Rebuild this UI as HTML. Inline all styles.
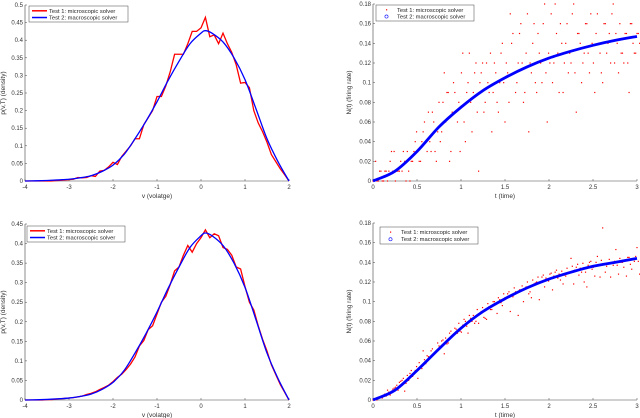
<!DOCTYPE html>
<html><head><meta charset="utf-8"><style>
html,body{margin:0;padding:0;background:#fff;}
svg{display:block;font-family:"Liberation Sans",sans-serif;}
</style></head><body>
<svg id="fig" width="640" height="418" viewBox="0 0 640 418" xmlns="http://www.w3.org/2000/svg"></svg>
<script>
// ---- density data (v) ----
const vRed = [-4,2,0.1];
const redTop = [0,0,0,0,0,0,0,0.001,0.002,0.003,0.004,
0.005,0.01,0.009,0.01,0.015,0.013,0.028,0.03,0.04,0.053,
0.047,0.07,0.085,0.1,0.12,0.12,0.16,0.18,0.2,0.24,
0.24,0.27,0.31,0.36,0.36,0.36,0.39,0.425,0.425,0.435,
0.465,0.41,0.415,0.39,0.42,0.39,0.365,0.33,0.278,0.28,
0.265,0.2,0.165,0.14,0.11,0.075,0.055,0.035,0.018,0];
const redBottom = [0,0,0,0,0,0.001,0.001,0.002,0.003,0.004,0.005,
0.006,0.008,0.01,0.014,0.017,0.021,0.027,0.032,0.038,0.047,
0.058,0.066,0.078,0.092,0.11,0.138,0.152,0.18,0.19,0.22,
0.25,0.265,0.295,0.33,0.34,0.37,0.395,0.378,0.4,0.415,
0.435,0.415,0.425,0.42,0.39,0.385,0.37,0.34,0.335,0.29,
0.25,0.23,0.19,0.155,0.125,0.09,0.065,0.04,0.02,0];
const vBlue = [-4,-3.75,-3.5,-3.25,-3,-2.75,-2.5,-2.25,-2,-1.75,-1.5,-1.25,-1,-0.75,-0.5,-0.25,0,0.1,0.25,0.5,0.75,1,1.25,1.5,1.75,2];
const blueDensity = [0,0.0005,0.0015,0.003,0.005,0.009,0.015,0.027,0.045,0.075,0.12,0.17,0.225,0.285,0.34,0.39,0.42,0.427,0.42,0.395,0.35,0.288,0.205,0.12,0.055,0];
// ---- firing rate data (t) ----
const tMacro = [0,0.25,0.5,0.75,1,1.25,1.5,1.75,2,2.25,2.5,2.75,3];
const macroTop = [0,0.01,0.03,0.055,0.075,0.092,0.105,0.116,0.125,0.132,0.138,0.143,0.147];
const macroBottom = [0,0.01,0.03,0.052,0.073,0.09,0.103,0.114,0.123,0.13,0.136,0.14,0.144];
const tStep = 0.03;
const microTopA = [0,0.02,0,0.01,0,0.01,0.01,0.03,0.03,0.01,0.01,
0.01,0.02,0.03,0,0.02,0.04,0.03,0.02,0.05,0.04,
0.07,0.03,0.06,0.02,0.08,0.05,0.11,0.09,0.02,0.07,
0.09,0.06,0.03,0.13,0.04,0.10,0.08,0.09,0.12,0.01,
0.11,0.07,0.12,0.09,0.05,0.12,0.08,0.10,0.14,0.06,
0.11,0.17,0.15,0.09,0.12,0.16,0.08,0.13,0.05,0.11,
0.16,0.09,0.13,0.10,0.18,0.06,0.12,0.10,0.18,0.13,
0.16,0.09,0.14,0.11,0.12,0.18,0.07,0.15,0.10,0.13,
0.16,0.11,0.14,0.09,0.17,0.13,0.10,0.16,0.14,0.12,
0.18,0.15,0.11,0.13,0.12,0.15,0.09,0.16,0.13,0.15,0.14];
const microTopB = [0,0,0.01,0,0.01,0,0.02,0.01,0,0.01,0.02,
0.03,0,0.01,0.02,0.03,0.05,0.02,0.04,0.06,0.03,
0.04,0.07,0.03,0.05,0.04,0.08,0.06,0.09,0.03,0.10,
0.07,0.08,0.11,0.06,0.09,0.13,0.05,0.11,0.07,0.10,
0.12,0.08,0.10,0.13,0.09,0.11,0.07,0.13,0.10,0.12,
0.08,0.14,0.11,0.10,0.15,0.12,0.09,0.17,0.12,0.14,
0.10,0.15,0.12,0.16,0.11,0.13,0.17,0.12,0.15,0.09,
0.14,0.12,0.16,0.13,0.17,0.11,0.15,0.14,0.12,0.16,
0.13,0.17,0.12,0.15,0.14,0.11,0.16,0.13,0.15,0.17,
0.12,0.14,0.16,0.13,0.15,0.12,0.16,0.14,0.13,0.15];
const microBotA = [0,0.001,0.002,0.003,0.005,0.004,0.008,0.009,0.012,0.015,0.018,
0.02,0.009,0.025,0.027,0.024,0.03,0.022,0.033,0.05,0.037,
0.044,0.05,0.047,0.049,0.055,0.06,0.047,0.057,0.068,0.065,
0.073,0.068,0.07,0.076,0.08,0.068,0.083,0.086,0.08,0.078,
0.09,0.084,0.082,0.095,0.092,0.1,0.088,0.102,0.096,0.104,
0.108,0.09,0.105,0.11,0.086,0.112,0.1,0.115,0.108,0.104,
0.118,0.12,0.102,0.125,0.115,0.122,0.128,0.112,0.13,0.124,
0.122,0.118,0.126,0.13,0.144,0.118,0.135,0.127,0.13,0.12,
0.115,0.14,0.133,0.126,0.146,0.125,0.175,0.13,0.139,0.125,
0.137,0.153,0.128,0.14,0.135,0.126,0.145,0.133,0.141,0.155,0.128];
const microBotB = [0.001,0,0.003,0.002,0.006,0.01,0.005,0.011,0.013,0.01,0.019,
0.022,0.017,0.02,0.03,0.026,0.034,0.038,0.032,0.041,0.045,
0.043,0.052,0.048,0.058,0.054,0.061,0.063,0.058,0.07,0.066,
0.072,0.078,0.069,0.082,0.075,0.086,0.08,0.078,0.092,0.088,
0.094,0.083,0.098,0.092,0.1,0.097,0.104,0.099,0.108,0.104,
0.11,0.106,0.114,0.109,0.112,0.116,0.113,0.12,0.11,0.122,
0.119,0.125,0.12,0.127,0.124,0.121,0.129,0.126,0.132,0.128,
0.131,0.127,0.134,0.13,0.136,0.132,0.138,0.134,0.139,0.13,
0.137,0.141,0.135,0.14,0.137,0.142,0.138,0.136,0.143,0.139,
0.141,0.137,0.144,0.14,0.142,0.145,0.138,0.143,0.146,0.141];
const vTicks = ['-4','-3','-2','-1','0','1','2'];
const tTicks = ['0','0.5','1','1.5','2','2.5','3'];
const densTicksTop = ['0','0.05','0.1','0.15','0.2','0.25','0.3','0.35','0.4','0.45','0.5'];
const densTicksBot = ['0','0.05','0.1','0.15','0.2','0.25','0.3','0.35','0.4','0.45'];
const rateTicks = ['0','0.02','0.04','0.06','0.08','0.1','0.12','0.14','0.16','0.18'];

const NS='http://www.w3.org/2000/svg';
const svg=document.getElementById('fig');
function mk(tag,attrs,parent){const e=document.createElementNS(NS,tag);for(const k in attrs)e.setAttribute(k,attrs[k]);(parent||svg).appendChild(e);return e;}

function panel(o){
  const g=mk('g',{});
  
  
  const sx=v=>o.x0+(v-o.xmin)/(o.xmax-o.xmin)*(o.x1-o.x0);
  const sy=v=>o.y0-(v-o.ymin)/(o.ymax-o.ymin)*(o.y0-o.y1);
  const ax=mk('path',{d:`M${o.x0},${o.y1}V${o.y0}H${o.x1}`,stroke:'#444',fill:'none','stroke-width':0.6},g);
  
  
  o.xt.forEach(s=>{const v=parseFloat(s);const x=sx(v);
    mk('line',{x1:x,x2:x,y1:o.y0,y2:o.y0-2,stroke:'#444','stroke-width':0.5},g);
    const t=mk('text',{x:x,y:o.y0+8,'font-size':6,'text-anchor':'middle',fill:'#333'},g);t.textContent=s;
    
    });
  o.yt.forEach(s=>{const v=parseFloat(s);const y=sy(v);
    mk('line',{x1:o.x0,x2:o.x0+2,y1:y,y2:y,stroke:'#444','stroke-width':0.5},g);
    const t=mk('text',{x:o.x0-2,y:y+2,'font-size':6,'text-anchor':'end',fill:'#333'},g);t.textContent=s;
    
    });
  const xl=mk('text',{x:(o.x0+o.x1)/2,y:o.y0+17,'font-size':6.5,'text-anchor':'middle',fill:'#333'},g);xl.textContent=o.xlabel;
  
  
  const yc=(o.y0+o.y1)/2;
  const yl=mk('text',{x:o.x0-o.ylo,y:yc,'font-size':6.5,'text-anchor':'middle',fill:'#333',transform:`rotate(-90 ${o.x0-o.ylo} ${yc})`},g);yl.textContent=o.ylabel;
  
  
  o.draw(g,sx,sy);
  const L=o.leg;
  const lg=mk('g',{},g);
  
  
  mk('rect',{x:L[0],y:L[1],width:L[2],height:L[3],fill:'#fff',stroke:'#444','stroke-width':0.5},lg);
  [['Test 1: microscopic solver','red'],['Test 2: macroscopic solver','blue']].forEach((e,i)=>{
    const yy=L[1]+L[3]*(i===0?0.3:0.72);
    if(o.lines){mk('line',{x1:L[0]+3,x2:L[0]+18,y1:yy,y2:yy,stroke:e[1],'stroke-width':1.5},lg);}
    else if(i===0){mk('rect',{x:L[0]+10,y:yy-0.6,width:1.2,height:1.2,fill:'red'},lg);}
    else{mk('circle',{cx:L[0]+10.5,cy:yy,r:1.6,fill:'none',stroke:'blue','stroke-width':0.6},lg);}
    const t=mk('text',{x:L[0]+(o.lines?20:21),y:yy+2,'font-size':5.8,fill:'#222'},lg);t.textContent=e[0];
    
    
  });
}
function linePath(xs,ys,sx,sy){return xs.map((x,i)=>(i?'L':'M')+sx(x).toFixed(2)+','+sy(ys[i]).toFixed(2)).join('');}
function smoothPath(xs,ys,sx,sy){const p=xs.map((x,i)=>[sx(x),sy(ys[i])]);let d='M'+p[0][0]+','+p[0][1];
  for(let i=0;i<p.length-1;i++){const p0=p[i-1]||p[i],p1=p[i],p2=p[i+1],p3=p[i+2]||p2;
    d+=`C${p1[0]+(p2[0]-p0[0])/6},${p1[1]+(p2[1]-p0[1])/6} ${p2[0]-(p3[0]-p1[0])/6},${p2[1]-(p3[1]-p1[1])/6} ${p2[0]},${p2[1]}`;}return d;}
function vGrid(n){const a=[];for(let i=0;i<n;i++)a.push(vRed[0]+i*vRed[2]);return a;}

function densityDraw(red){return (g,sx,sy)=>{
  const r=mk('path',{d:linePath(vGrid(red.length),red,sx,sy),stroke:'red',fill:'none','stroke-width':1.3},g);
  
  
  const b=mk('path',{d:smoothPath(vBlue,blueDensity,sx,sy),stroke:'blue',fill:'none','stroke-width':1.3},g);
  
  
};}
function rateDraw(a,b,macro){return (g,sx,sy)=>{
  [[a,0],[b,tStep/2]].forEach(([arr,off])=>arr.forEach((v,i)=>{
    const d=mk('rect',{x:sx(off+i*tStep)-0.6,y:sy(v)-0.6,width:1.2,height:1.2,fill:'red'},g);
    
    
  }));
  const m=mk('path',{d:smoothPath(tMacro,macro,sx,sy),stroke:'blue',fill:'none','stroke-width':2.8},g);
  
  
};}

panel({name:'density-panel-top',x0:25,x1:289,y0:181,y1:5,xmin:-4,xmax:2,ymin:0,ymax:0.5,xt:vTicks,yt:densTicksTop,
  xlabel:'v (volatge)',ylabel:'p(v,T) (density)',ylo:20,leg:[29,6,99,16],lines:true,draw:densityDraw(redTop)});
panel({name:'rate-panel-top',x0:373,x1:637,y0:181,y1:4,xmin:0,xmax:3,ymin:0,ymax:0.18,xt:tTicks,yt:rateTicks,
  xlabel:'t (time)',ylabel:'N(t) (firing rate)',ylo:22,leg:[376,5,98,16],lines:false,draw:rateDraw(microTopA,microTopB,macroTop)});
panel({name:'density-panel-bottom',x0:25,x1:289,y0:400,y1:224,xmin:-4,xmax:2,ymin:0,ymax:0.45,xt:vTicks,yt:densTicksBot,
  xlabel:'v (volatge)',ylabel:'p(v,T) (density)',ylo:20,leg:[27,226,98,16],lines:true,draw:densityDraw(redBottom)});
panel({name:'rate-panel-bottom',x0:373,x1:637,y0:400,y1:223,xmin:0,xmax:3,ymin:0,ymax:0.18,xt:tTicks,yt:rateTicks,
  xlabel:'t (time)',ylabel:'N(t) (firing rate)',ylo:22,leg:[380,227,98,17],lines:false,draw:rateDraw(microBotA,microBotB,macroBottom)});
</script>
</body></html>
